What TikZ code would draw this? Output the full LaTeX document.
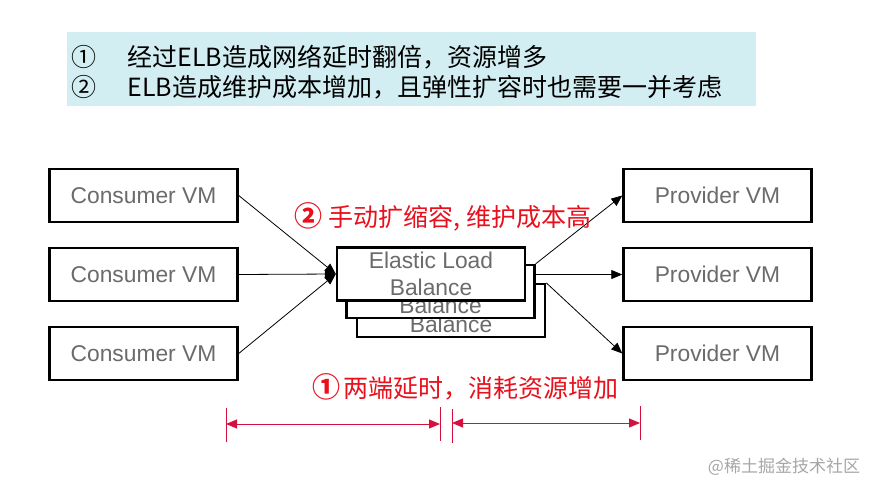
\documentclass[tikz,border=0pt]{standalone}
\usepackage{fontspec}
\setmainfont{Liberation Sans}
\newfontfamily\cjk{Noto Sans CJK SC}
\usetikzlibrary{arrows.meta}
\definecolor{bannercyan}{HTML}{D3EEF2}
\definecolor{labelred}{HTML}{E8101C}
\definecolor{dimred}{HTML}{D4103E}
\definecolor{boxgrey}{HTML}{6B6B6B}
\newcommand{\stepnum}[1]{{\bfseries\fontsize{28}{28}\selectfont #1}}
\begin{document}
\begin{tikzpicture}[x=1pt,y=-1pt,
    vmbox/.style={draw,line width=2.4pt,fill=white,minimum width=188pt,minimum height=53pt,inner sep=0pt,
      text=boxgrey,font=\fontsize{22.8}{27}\selectfont},
    elbbox/.style={vmbox,align=center},
    link/.style={line width=0.8pt,-{Triangle[length=11pt,width=9pt]}},
    dim/.style={dimred,line width=1pt},
    toptext/.style={anchor=west,font=\cjk\fontsize{25}{30}\selectfont},
    redlabel/.style={text=labelred,font=\cjk\fontsize{25}{27}\selectfont}]
  \useasboundingbox (0,0) rectangle (879,495);
  % problem list at the top
  \fill[bannercyan] (67,32) rectangle (756,106);
  \node[toptext] (n1) at (68,57) {①};
  \node[toptext] (t1) at (124,57) {经过ELB造成网络延时翻倍，资源增多};
  \node[toptext] (n2) at (68,87) {②};
  \node[toptext] (t2) at (124,87) {ELB造成维护成本增加，且弹性扩容时也需要一并考虑};
  % virtual machines
  \node[vmbox] (c1) at (143.5,195.5) {Consumer VM};
  \node[vmbox] (c2) at (143.5,274.5) {Consumer VM};
  \node[vmbox] (c3) at (143.5,353.5) {Consumer VM};
  \node[vmbox] (p1) at (717.5,195.5) {Provider VM};
  \node[vmbox] (p2) at (717.5,274.5) {Provider VM};
  \node[vmbox] (p3) at (717.5,353.5) {Provider VM};
  % stacked load balancers, back to front
  \node[elbbox] (elb3) at (451,310.5) {Elastic Load\\Balance};
  \node[elbbox] (elb2) at (440.5,291.5) {Elastic Load\\Balance};
  \node[elbbox] (elb1) at (431,274) {Elastic Load\\Balance};
  \draw[link] (c1.east) -- (elb1.west);
  \draw[link] (c2.east) -- (elb1.west);
  \draw[link] (c3.east) -- (elb1.west);
  \draw[link] (elb2.north east) -- (p1.west);
  \draw[link] (elb2.east |- p2.west) -- (p2.west);
  \draw[link] (elb3.north east) -- (p3.west);
  \node[redlabel] (lab2) at (443,217) {\stepnum{②} 手动扩缩容, 维护成本高};
  \node[redlabel] (lab1) at (465,387) {\stepnum{①}\kern3pt 两端延时，消耗资源增加};
  % latency spans
  \coordinate (s1) at (226,424);
  \coordinate (s2) at (440,424);
  \coordinate (s3) at (452,423);
  \coordinate (s4) at (640,423);
  \draw[dim] (226,408) -- (226,442) (440,407) -- (440,441) (452,409) -- (452,443) (640,406) -- (640,440);
  \draw[dim,{Triangle[length=11pt,width=9pt]}-{Triangle[length=11pt,width=9pt]}] (s1) -- (s2);
  \draw[dim,{Triangle[length=11pt,width=9pt]}-{Triangle[length=11pt,width=9pt]}] (s3) -- (s4);
  \node[text=black!35,font=\cjk\fontsize{17}{20}\selectfont] (mark) at (784,467) {@稀土掘金技术社区};
\end{tikzpicture}
\end{document}
